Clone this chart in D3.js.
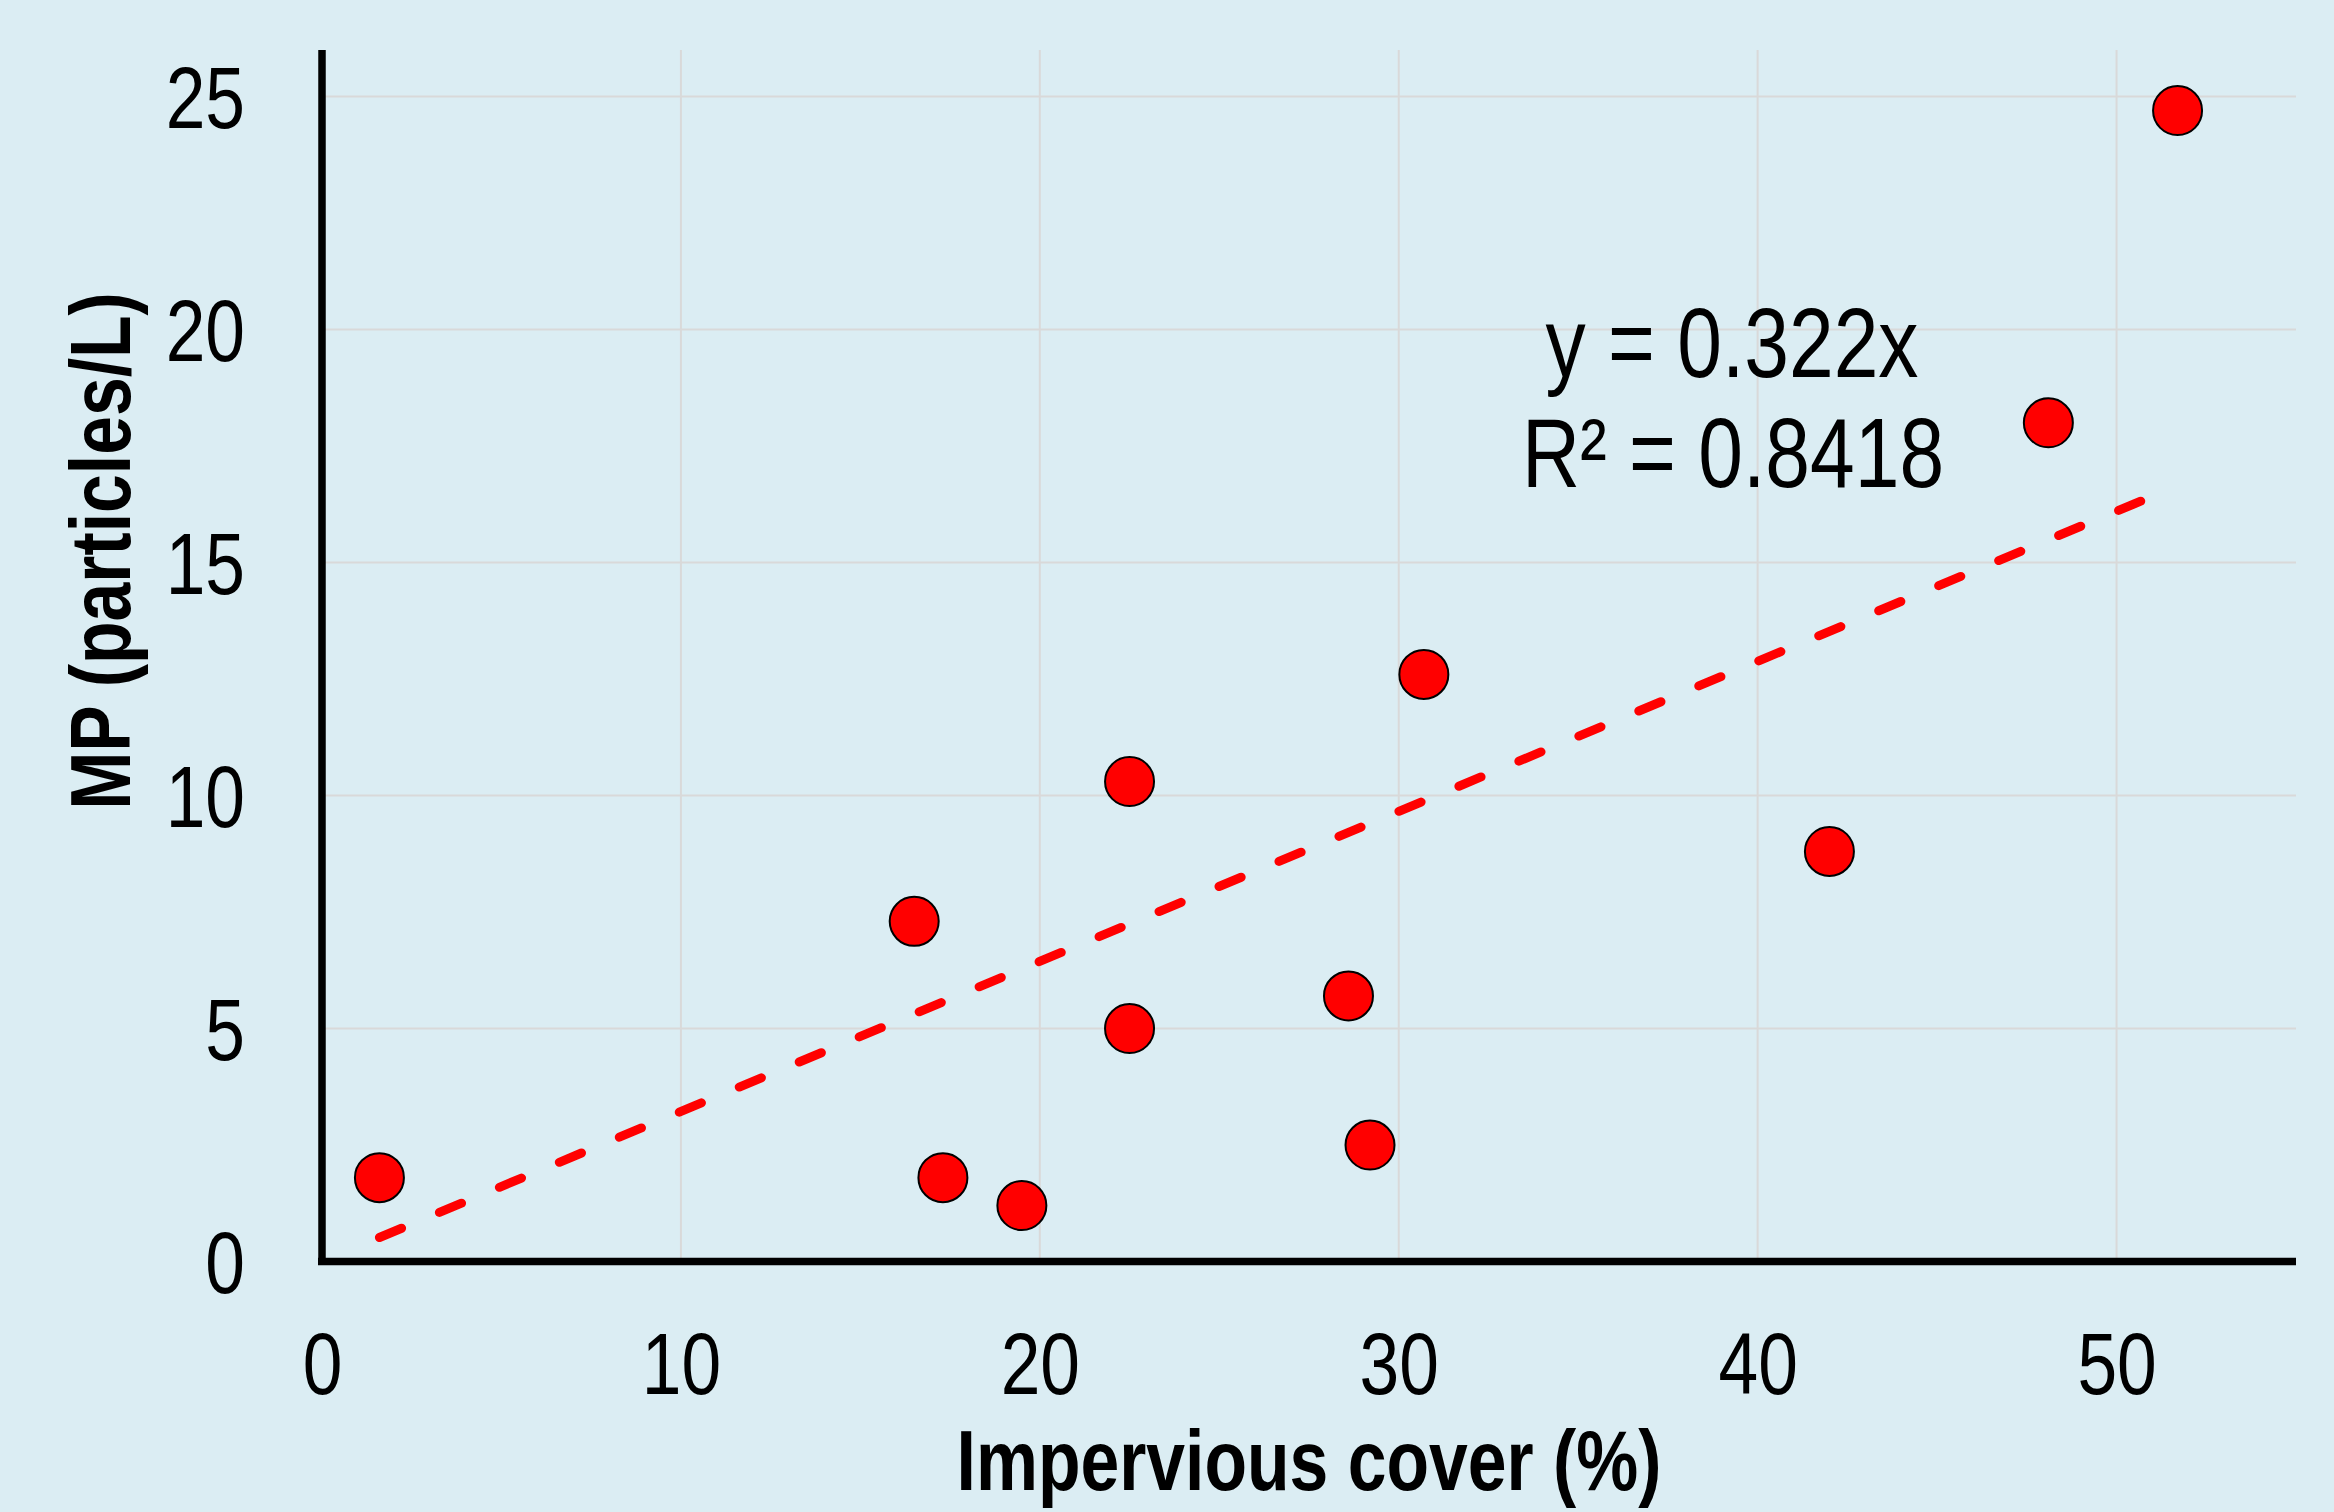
<!DOCTYPE html>
<html>
<head>
<meta charset="utf-8">
<script src="https://cdn.jsdelivr.net/npm/d3@7"></script>
<style>
  body { margin: 0; background: #dbedf3; }
  svg { display: block; }
  text { font-family: "Liberation Sans", Arial, sans-serif; fill: #000; }
</style>
</head>
<body>
<svg id="drawing_region"></svg>
<script>
// values
const imperviousCover = [1.6, 16.5, 17.3, 19.5, 22.5, 22.5, 28.6, 29.2, 30.7, 42.0, 48.1, 51.7];
const mpConcentration = [1.8, 7.3, 1.8, 1.2, 10.3, 5.0, 5.7, 2.5, 12.6, 8.8, 18.0, 24.7];
const xTicks = [0, 10, 20, 30, 40, 50];
const yTicks = [0, 5, 10, 15, 20, 25];
const trendSlope = 0.322;
const trendR2 = "0.8418";

class ScatterTrend {
    constructor(selector) {
        this.width = 2334;
        this.height = 1512;
        this.svg = d3.select(selector)
            .attr("width", this.width)
            .attr("height", this.height);
        this.squeeze = 0.82; // the figure uses a narrow typeface
        this.data = imperviousCover.map((x, i) => ({x: x, y: mpConcentration[i]}));
        this.xScale = d3.scaleLinear().domain([0, 55]).range([322, 2296]);
        this.yScale = d3.scaleLinear().domain([0, 26]).range([1261.5, 50]);
        this.draw();
    }

    draw() {
        const svg = this.svg, xs = this.xScale, ys = this.yScale, sq = this.squeeze;

        svg.append("rect")
            .attr("width", this.width).attr("height", this.height)
            .attr("fill", "#dbedf3");

        // gridlines
        const grid = svg.append("g");
        grid.selectAll(".vgrid")
            .data(xTicks.filter(d => d > 0))
            .join("line")
            .attr("x1", d => xs(d)).attr("x2", d => xs(d))
            .attr("y1", ys(0)).attr("y2", ys(26))
            .attr("stroke", "#d9d9d9").attr("stroke-width", 2);
        grid.selectAll(".hgrid")
            .data(yTicks.filter(d => d > 0))
            .join("line")
            .attr("x1", xs(0)).attr("x2", xs(55))
            .attr("y1", d => ys(d)).attr("y2", d => ys(d))
            .attr("stroke", "#d9d9d9").attr("stroke-width", 2);

        // linear trendline through origin
        const ext = d3.extent(imperviousCover);
        const line = d3.line().x(d => xs(d)).y(d => ys(trendSlope * d));
        svg.append("path")
            .datum(ext)
            .attr("d", line)
            .attr("fill", "none")
            .attr("stroke", "#ff0000")
            .attr("stroke-width", 9)
            .attr("stroke-linecap", "round")
            .attr("stroke-dasharray", "24,41");

        // points
        svg.append("g").selectAll("circle")
            .data(this.data)
            .join("circle")
            .attr("cx", d => xs(d.x))
            .attr("cy", d => ys(d.y))
            .attr("r", 24.5)
            .attr("fill", "#ff0000")
            .attr("stroke", "#000")
            .attr("stroke-width", 2);

        // axes
        const xAxis = svg.append("g")
            .attr("transform", "translate(0," + ys(0) + ")")
            .call(d3.axisBottom(xs).tickValues(xTicks).tickSize(0).tickFormat(d3.format("d")));
        xAxis.select(".domain").attr("stroke", "#000").attr("stroke-width", 7.5)
            .attr("d", "M" + (xs(0) - 4) + ",0H" + xs(55));
        xAxis.selectAll("text")
            .attr("y", 133).attr("dy", null)
            .attr("font-size", 87)
            .attr("transform", "scale(" + sq + ",1)");

        const yAxis = svg.append("g")
            .attr("transform", "translate(" + xs(0) + ",0)")
            .call(d3.axisLeft(ys).tickValues(yTicks).tickSize(0).tickFormat(d3.format("d")));
        yAxis.select(".domain").attr("stroke", "#000").attr("stroke-width", 7.5)
            .attr("d", "M0," + ys(26) + "V" + (ys(0) + 3.5));
        yAxis.selectAll("text")
            .attr("x", -77 / sq).attr("y", 31).attr("dy", null)
            .attr("font-size", 87)
            .attr("transform", "scale(" + sq + ",1)");
        svg.selectAll("g").attr("font-family", null);

        // axis titles
        svg.append("text")
            .attr("transform", "translate(1309,1490) scale(" + sq + ",1)")
            .attr("text-anchor", "middle")
            .attr("font-size", 85)
            .attr("font-weight", "bold")
            .text("Impervious cover (%)");

        svg.append("text")
            .attr("transform", "translate(130,551) rotate(-90) scale(" + sq + ",1)")
            .attr("text-anchor", "middle")
            .attr("font-size", 85)
            .attr("font-weight", "bold")
            .text("MP (particles/L)");

        // trendline equation
        const eq = svg.append("g")
            .attr("font-size", 98)
            .attr("text-anchor", "middle");
        eq.append("text")
            .attr("transform", "translate(1732,377) scale(" + sq + ",1)")
            .text("y = " + trendSlope + "x");
        eq.append("text")
            .attr("transform", "translate(1733,487) scale(" + sq + ",1)")
            .text("R\u00b2 = " + trendR2);
    }
}

const chart = new ScatterTrend("#drawing_region");
</script>
</body>
</html>
